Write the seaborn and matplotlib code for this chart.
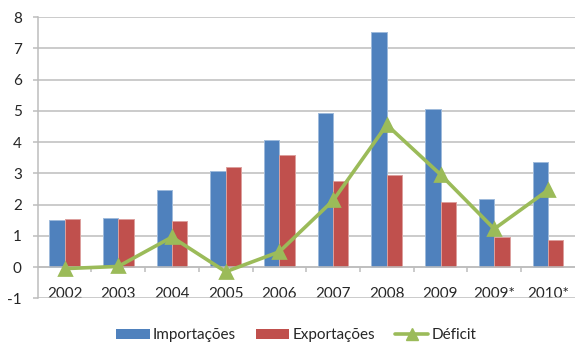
import matplotlib
matplotlib.use("Agg")
import matplotlib.pyplot as plt
from matplotlib.lines import Line2D
from matplotlib.patches import Patch
from matplotlib.ticker import FixedLocator, FuncFormatter
import numpy as np
import pandas as pd
import seaborn as sns

anos = ["2002", "2003", "2004", "2005", "2006", "2007", "2008", "2009", "2009*", "2010*"]
importacoes = [1.50, 1.58, 2.46, 3.06, 4.07, 4.93, 7.52, 5.06, 2.19, 3.35]
exportacoes = [1.55, 1.55, 1.47, 3.19, 3.58, 2.75, 2.96, 2.08, 0.95, 0.87]
deficit = [-0.05, 0.02, 0.96, -0.15, 0.49, 2.13, 4.55, 2.96, 1.22, 2.46]
series = ["Importações", "Exportações"]
y_ticks = [-1, 0, 1, 2, 3, 4, 5, 6, 7, 8]

AZUL = "#4F81BD"
VERMELHO = "#C0504D"
VERDE = "#9BBB59"
GRELHA = "#BDBDBD"
TEXTO = "#262626"

sns.set_theme(style="white")
plt.rcParams["font.family"] = ["Lato", "DejaVu Sans"]
plt.rcParams["axes.unicode_minus"] = False

df = pd.DataFrame({
    "Ano": anos * 2,
    "Valor": importacoes + exportacoes,
    "Série": [series[0]] * len(anos) + [series[1]] * len(anos),
})

fig = plt.figure(figsize=(5.75, 3.43), dpi=100)
ax = fig.add_axes([0.0656, 0.1303, 0.934, 0.8201])

sns.barplot(data=df, x="Ano", y="Valor", hue="Série", order=anos,
            hue_order=series, palette=[AZUL, VERMELHO], width=0.57,
            saturation=1, errorbar=None, legend=False, ax=ax,
            edgecolor="none", zorder=2)
# thin light outline on each bar
for patch in ax.patches:
    fc = np.array(patch.get_facecolor()[:3])
    patch.set_edgecolor(tuple(fc + (1 - fc) * 0.45))
    patch.set_linewidth(0.7)

sns.pointplot(x=anos, y=deficit, order=anos, color=VERDE, markers="^",
              linestyles="-", markersize=8.5, linewidth=2.6, errorbar=None,
              ax=ax, zorder=4)

ax.set_xlim(-0.5, len(anos) - 0.5)
ax.set_ylim(-1, 8)
ax.set_xlabel("")
ax.set_ylabel("")

# horizontal grid
ax.yaxis.set_major_locator(FixedLocator(y_ticks))
ax.yaxis.set_major_formatter(FuncFormatter(lambda v, p: f"{int(v)}"))
ax.grid(axis="y", color=GRELHA, linewidth=1.1, zorder=0)
ax.grid(axis="x", visible=False)
ax.set_axisbelow(True)

for side in ("top", "right"):
    ax.spines[side].set_visible(False)
ax.spines["left"].set_color(GRELHA)
ax.spines["left"].set_linewidth(1.1)
ax.spines["bottom"].set_position(("data", 0))
ax.spines["bottom"].set_color(GRELHA)
ax.spines["bottom"].set_linewidth(1.1)
ax.spines["bottom"].set_zorder(3)

ax.tick_params(axis="y", which="major", direction="out", length=3.5,
               width=1.1, color=GRELHA, pad=8, labelsize=11,
               labelcolor=TEXTO, left=True)
ax.set_xticks(range(len(anos)))
ax.set_xticklabels(anos)
ax.set_xticks(np.arange(0.5, len(anos) - 0.5, 1), minor=True)
ax.tick_params(axis="x", which="major", length=0, pad=14.5, labelsize=11,
               labelcolor=TEXTO)
ax.tick_params(axis="x", which="minor", direction="out", length=3.5,
               width=1.1, color=GRELHA, bottom=True)

handles = [
    Patch(facecolor=AZUL, edgecolor="none"),
    Patch(facecolor=VERMELHO, edgecolor="none"),
    Line2D([0], [0], color=VERDE, linewidth=2.6, marker="^", markersize=8.5),
]
fig.legend(handles, ["Importações", "Exportações", "Déficit"], loc="center",
           bbox_to_anchor=(0.515, 0.022), ncol=3, frameon=False, fontsize=11,
           handlelength=2.2, handleheight=0.66, handletextpad=0.2,
           columnspacing=1.3, labelcolor=TEXTO)

fig.savefig("out.png", dpi=100)
